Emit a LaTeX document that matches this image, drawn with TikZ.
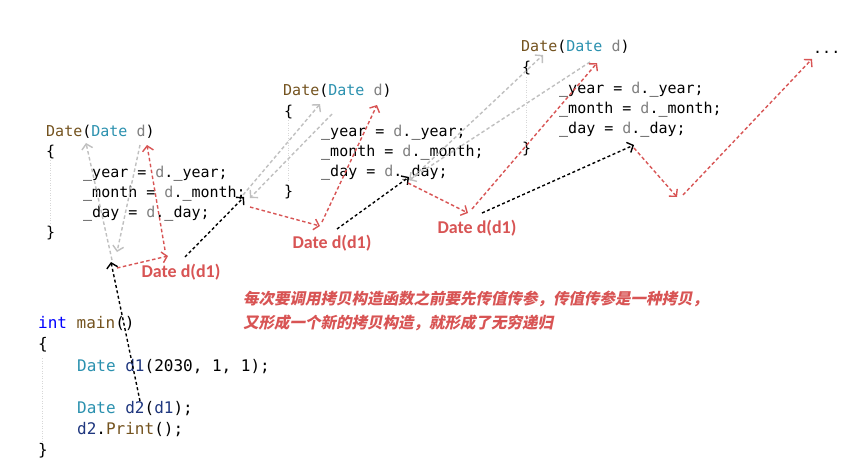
\documentclass[tikz,border=0pt]{standalone}
\usepackage{fontspec}
\setmonofont{DejaVu Sans Mono}
\newfontfamily\labfont{Carlito}
\newfontfamily\cjk[FakeSlant=0.2]{Noto Sans CJK SC}
\usetikzlibrary{arrows.meta}
\definecolor{brownc}{HTML}{74531F}
\definecolor{typec}{HTML}{2B91AF}
\definecolor{paramc}{HTML}{808080}
\definecolor{varc}{HTML}{1F377F}
\definecolor{kwc}{HTML}{0000FF}
\definecolor{redc}{RGB}{216,84,84}
\definecolor{grayc}{RGB}{192,192,192}
\definecolor{guidec}{RGB}{215,215,215}
\newcommand{\hdr}{{\color{brownc}Date}(\textcolor{typec}{Date} \textcolor{paramc}{d})}
\newcommand{\pd}{\textcolor{paramc}{d}}
\tikzset{
  code/.style={font=\ttfamily\fontsize{15}{18}\selectfont, inner sep=0pt, anchor=base west},
  mcode/.style={font=\ttfamily\fontsize{16}{19}\selectfont, inner sep=0pt, anchor=base west},
  lab/.style={font=\labfont\bfseries\fontsize{18}{20}\selectfont, text=redc, inner sep=0pt},
  note/.style={font=\cjk\bfseries\fontsize{15.5}{18}\selectfont, text=redc, inner sep=0pt, anchor=base west},
  guide/.style={draw=guidec, line width=0.6pt, dash pattern=on 1pt off 1.5pt},
  arr/.style={-{Straight Barb[length=5pt,width=11pt]}, line width=1.4pt, dash pattern=on 3.5pt off 2.5pt},
  grayarr/.style={arr, draw=grayc},
  redarr/.style={arr, draw=redc},
  blackarr/.style={arr, draw=black, dash pattern=on 3pt off 2.5pt},
}
\begin{document}
\begin{tikzpicture}[x=1pt,y=-1pt]
\useasboundingbox[fill=white] (0,0) rectangle (852,466);

% ---------- block 1 ----------
\node[code] (b1h) at (46,136) {\hdr};
\node[code] (b1o) at (46,156) {\{};
\node[code] (b1y) at (83,177) {\_year = \pd.\_year;};
\node[code] (b1m) at (83,197) {\_month = \pd.\_month;};
\node[code] (b1d) at (83,217) {\_day = \pd.\_day;};
\node[code] (b1c) at (46,237) {\}};
\coordinate (b1gt) at (50,160); \coordinate (b1gb) at (50,225);
\draw[guide] (b1gt) -- (b1gb);

% ---------- block 2 ----------
\node[code] (b2h) at (283,95) {\hdr};
\node[code] (b2o) at (284,116) {\{};
\node[code] (b2y) at (321,136) {\_year = \pd.\_year;};
\node[code] (b2m) at (321,156) {\_month = \pd.\_month;};
\node[code] (b2d) at (321,176) {\_day = \pd.\_day;};
\node[code] (b2c) at (284,196) {\}};
\coordinate (b2gt) at (288,120); \coordinate (b2gb) at (288,182);
\draw[guide] (b2gt) -- (b2gb);

% ---------- block 3 ----------
\node[code] (b3h) at (521,51) {\hdr};
\node[code] (b3o) at (522,72) {\{};
\node[code] (b3y) at (559,93) {\_year = \pd.\_year;};
\node[code] (b3m) at (559,113) {\_month = \pd.\_month;};
\node[code] (b3d) at (559,133) {\_day = \pd.\_day;};
\node[code] (b3c) at (522,153) {\}};
\coordinate (b3gt) at (526,77); \coordinate (b3gb) at (526,140);
\draw[guide] (b3gt) -- (b3gb);

\node[code] (dots) at (813,53) {...};

% ---------- main ----------
\node[mcode] (m1) at (38,328) {\textcolor{kwc}{int} \textcolor{brownc}{main}()};
\node[mcode] (m2) at (38,349) {\{};
\node[mcode] (m3) at (77,371) {\textcolor{typec}{Date} \textcolor{varc}{d1}(2030, 1, 1);};
\node[mcode] (m4) at (77,413) {\textcolor{typec}{Date} \textcolor{varc}{d2}(\textcolor{varc}{d1});};
\node[mcode] (m5) at (77,434) {\textcolor{varc}{d2}.\textcolor{brownc}{Print}();};
\node[mcode] (m6) at (38,455) {\}};
\coordinate (mgt) at (42,358); \coordinate (mgb) at (42,442);
\draw[guide] (mgt) -- (mgb);

% ---------- labels ----------
\node[lab] (l1) at (181,272) {Date d(d1)};
\node[lab] (l2) at (332,243) {Date d(d1)};
\node[lab] (l3) at (477,228) {Date d(d1)};
\node[note] (n1) at (243,304) {每次要调用拷贝构造函数之前要先传值传参，传值传参是一种拷贝，};
\node[note] (n2) at (243,328) {又形成一个新的拷贝构造，就形成了无穷递归};

% ---------- arrow end points ----------
\coordinate (g1as) at (112,260); \coordinate (g1ae) at (86,143);
\coordinate (g1bs) at (140,145); \coordinate (g1be) at (117,252);
\coordinate (r1as) at (117,268); \coordinate (r1ae) at (168,256);
\coordinate (r1bs) at (165,250); \coordinate (r1be) at (147,145);
\coordinate (k1s) at (140,401);  \coordinate (k1e) at (111,262);
\coordinate (k2s) at (185,257);  \coordinate (k2e) at (244,197);

\coordinate (g2as) at (243,195); \coordinate (g2ae) at (320,104);
\coordinate (g2bs) at (332,114); \coordinate (g2be) at (250,198);
\coordinate (r2as) at (250,207); \coordinate (r2ae) at (320,226);
\coordinate (r2bs) at (322,222); \coordinate (r2be) at (377,105);
\coordinate (k3s) at (337,229);  \coordinate (k3e) at (409,177);

\coordinate (g3as) at (410,180); \coordinate (g3ae) at (543,55);
\coordinate (g3bs) at (590,62);  \coordinate (g3be) at (409,180);
\coordinate (r3as) at (408,183); \coordinate (r3ae) at (468,213);
\coordinate (r3bs) at (472,209); \coordinate (r3be) at (597,63);
\coordinate (k4s) at (482,213);  \coordinate (k4e) at (634,145);

\coordinate (r4as) at (634,148); \coordinate (r4ae) at (677,197);
\coordinate (r4bs) at (683,195); \coordinate (r4be) at (812,59);

% ---------- arrows ----------
\draw[grayarr] (g1as) -- (g1ae);
\draw[grayarr] (g1bs) -- (g1be);
\draw[redarr] (r1as) -- (r1ae);
\draw[redarr] (r1bs) -- (r1be);
\draw[blackarr] (k1s) -- (k1e);
\draw[blackarr] (k2s) -- (k2e);

\draw[grayarr] (g2as) -- (g2ae);
\draw[grayarr] (g2bs) -- (g2be);
\draw[redarr] (r2as) -- (r2ae);
\draw[redarr] (r2bs) -- (r2be);
\draw[blackarr] (k3s) -- (k3e);

\draw[grayarr] (g3as) -- (g3ae);
\draw[grayarr] (g3bs) -- (g3be);
\draw[redarr] (r3as) -- (r3ae);
\draw[redarr] (r3bs) -- (r3be);
\draw[blackarr] (k4s) -- (k4e);

\draw[redarr] (r4as) -- (r4ae);
\draw[redarr] (r4bs) -- (r4be);
\end{tikzpicture}
\end{document}
